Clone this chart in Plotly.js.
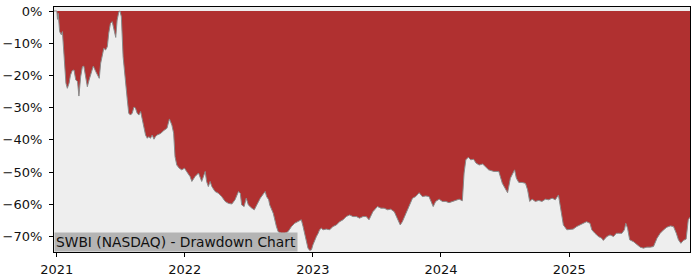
<!DOCTYPE html>
<html>
<head>
<meta charset="utf-8">
<script src="https://cdn.plot.ly/plotly-3.0.1.min.js"></script>
<style>html,body{margin:0;padding:0;background:#fff}#chart{width:700px;height:280px}</style>
</head>
<body>
<div id="chart"></div>
<script>
const dates = [
"2020-12-24","2021-01-01","2021-01-03","2021-01-05","2021-01-09","2021-01-14","2021-01-17","2021-01-22","2021-01-27","2021-01-31",
"2021-02-05","2021-02-09","2021-02-14","2021-02-19","2021-02-24","2021-03-01","2021-03-05","2021-03-10","2021-03-15","2021-03-19",
"2021-03-24","2021-03-29","2021-04-03","2021-04-07","2021-04-15","2021-04-22","2021-04-28","2021-05-02","2021-05-06","2021-05-11",
"2021-05-15","2021-05-20","2021-05-25","2021-05-29","2021-06-03","2021-06-08","2021-06-13","2021-06-18","2021-06-22","2021-06-27",
"2021-06-30","2021-07-04","2021-07-09","2021-07-16","2021-07-21","2021-07-25","2021-07-30","2021-08-04","2021-08-09","2021-08-13",
"2021-08-18","2021-08-23","2021-08-28","2021-09-01","2021-09-06","2021-09-11","2021-09-16","2021-09-20","2021-09-25","2021-09-30",
"2021-10-05","2021-10-09","2021-10-14","2021-10-24","2021-11-02","2021-11-11","2021-11-18","2021-11-25","2021-11-30","2021-12-04",
"2021-12-09","2021-12-16","2021-12-23","2021-12-31","2022-01-06","2022-01-16","2022-01-21","2022-01-30","2022-02-09","2022-02-14",
"2022-02-18","2022-02-28","2022-03-04","2022-03-09","2022-03-14","2022-03-19","2022-03-28","2022-04-07","2022-04-16","2022-04-26",
"2022-05-05","2022-05-15","2022-05-24","2022-06-03","2022-06-08","2022-06-12","2022-06-19","2022-06-25","2022-07-01","2022-07-11",
"2022-07-18","2022-07-25","2022-08-04","2022-08-14","2022-08-18","2022-08-22","2022-08-28","2022-08-31","2022-09-10","2022-09-19",
"2022-09-24","2022-10-03","2022-10-13","2022-10-22","2022-11-01","2022-11-10","2022-11-20","2022-11-29","2022-12-04","2022-12-08",
"2022-12-13","2022-12-18","2022-12-23","2022-12-28","2023-01-01","2023-01-06","2023-01-11","2023-01-16","2023-01-20","2023-01-25",
"2023-01-30","2023-02-08","2023-02-18","2023-02-27","2023-03-09","2023-03-18","2023-03-28","2023-04-06","2023-04-16","2023-04-25",
"2023-05-05","2023-05-14","2023-05-24","2023-06-02","2023-06-10","2023-06-21","2023-07-01","2023-07-04","2023-07-14","2023-07-23",
"2023-08-02","2023-08-11","2023-08-21","2023-08-30","2023-09-07","2023-09-13","2023-09-23","2023-10-02","2023-10-12","2023-10-21",
"2023-10-31","2023-11-09","2023-11-19","2023-11-28","2023-12-03","2023-12-10","2023-12-17","2023-12-27","2024-01-05","2024-01-15",
"2024-01-24","2024-02-03","2024-02-13","2024-02-22","2024-03-02","2024-03-07","2024-03-12","2024-03-19","2024-03-26","2024-04-03",
"2024-04-10","2024-04-19","2024-04-29","2024-05-07","2024-05-16","2024-05-31","2024-06-14","2024-06-24","2024-07-03","2024-07-09",
"2024-07-17","2024-07-25","2024-07-29","2024-08-03","2024-08-10","2024-08-19","2024-08-29","2024-09-04","2024-09-10","2024-09-17",
"2024-09-26","2024-10-06","2024-10-15","2024-10-25","2024-11-03","2024-11-13","2024-11-22","2024-12-01","2024-12-06","2024-12-11",
"2024-12-15","2024-12-25","2025-01-03","2025-01-12","2025-01-22","2025-01-31","2025-02-10","2025-02-19","2025-03-01","2025-03-06",
"2025-03-15","2025-03-25","2025-04-03","2025-04-08","2025-04-18","2025-04-27","2025-05-07","2025-05-15","2025-05-21","2025-05-31",
"2025-06-07","2025-06-11","2025-06-16","2025-06-22","2025-07-03","2025-07-13","2025-07-22","2025-07-31","2025-08-10","2025-08-20",
"2025-08-29","2025-09-08","2025-09-17","2025-09-27","2025-10-06","2025-10-16","2025-10-25","2025-11-02","2025-11-08","2025-11-15",
"2025-11-22","2025-11-30","2025-12-06","2025-12-11"
];
const drawdown = [
0,0,-2.6,-0.7,-6.4,-7.4,-6.4,-14.2,-22.4,-24,
-22.4,-19.9,-18.5,-18.3,-21.4,-21.9,-26.4,-20.4,-17.3,-17.1,
-19.9,-23.5,-21.4,-19.9,-17.1,-18.8,-20.2,-20.9,-16.2,-13.6,
-11.6,-12.1,-11.1,-6.9,-3.8,-3.3,-5.9,-8.2,-2.8,-0.2,
0,-1.8,-14.2,-23.5,-27.6,-31.7,-32.3,-31.7,-29.8,-30.1,
-31.7,-32.3,-31.2,-33.3,-36.4,-38.5,-39.5,-39,-39.5,-38.5,
-39.8,-39,-38.5,-38,-37.1,-36.4,-33.5,-35.4,-37.9,-45.2,
-47.8,-48.8,-49.3,-48.8,-49.8,-51.4,-52.9,-51.4,-50.3,-51.9,
-52.9,-49.8,-52.9,-54.5,-52.9,-54.5,-56,-56.6,-57.6,-59.1,
-59.7,-59.9,-58.6,-56,-56.6,-60.2,-60.7,-58.1,-60.2,-61.2,
-61.7,-60.2,-58.1,-56.6,-56,-57.6,-58.6,-60.2,-62.8,-66.9,
-68.5,-69,-69,-68.5,-66.9,-65.9,-65.4,-64.8,-66.9,-69,
-71.6,-73.6,-74.3,-74.1,-72.6,-71,-70,-69,-67.9,-67.4,
-67.9,-67.7,-67.9,-66.9,-66.4,-65.4,-64.8,-63.8,-63.3,-63.8,
-63.8,-64.3,-63.8,-63.8,-64.8,-62.3,-61.2,-60.7,-61.2,-61.2,
-61.7,-61.5,-62.3,-64.3,-66.4,-65.4,-62.8,-60.2,-58.1,-57.6,
-56.4,-57.6,-57.4,-57.6,-59.1,-60.7,-59.1,-58.4,-59.1,-59.1,
-59.5,-59.1,-58.6,-58.4,-58.9,-50.3,-46.2,-45.4,-46.2,-46,
-47.2,-47.8,-47.5,-48.5,-49.3,-49.8,-49.8,-53.5,-55.5,-56.4,
-51.9,-50.3,-49.3,-51.9,-53.2,-53.2,-53.5,-55.5,-59.1,-58.4,
-59.1,-58.8,-59.1,-58.4,-58.6,-58.1,-58.6,-57.1,-60.7,-64.3,
-66.4,-67.9,-67.9,-67.7,-66.9,-66.4,-65.9,-65.4,-65.9,-67.9,
-69,-70,-70.5,-71.2,-70,-69.5,-70,-69,-69,-69,
-67.9,-65.9,-67.4,-71,-71.6,-72.6,-73.3,-73.6,-73.3,-73.3,
-73.1,-70.5,-69,-67.9,-67.1,-66.7,-66.9,-69,-71,-72.1,
-71.2,-70.8,-64.8,-64
];
const zeroLine = dates.map(() => 0);
const yTickVals = [0, -10, -20, -30, -40, -50, -60, -70];
const yTickText = ["0%", "\u221210%", "\u221220%", "\u221230%", "\u221240%", "\u221250%", "\u221260%", "\u221270%"];
const xTickVals = ["2021-01-01", "2022-01-01", "2023-01-01", "2024-01-01", "2025-01-01"];
const xTickText = ["2021", "2022", "2023", "2024", "2025"];
const chartLabel = "SWBI (NASDAQ) - Drawdown Chart";

const font = {family: "DejaVu Sans, sans-serif", size: 13, color: "#111"};
const data = [
  {x: dates, y: zeroLine, type: "scatter", mode: "lines", line: {width: 0, color: "rgba(0,0,0,0)"}, hoverinfo: "skip", showlegend: false},
  {x: dates, y: drawdown, type: "scatter", mode: "lines", fill: "tonexty", fillcolor: "#b03030",
   line: {color: "#8a8a8a", width: 1}, showlegend: false}
];
const layout = {
  width: 700, height: 280,
  margin: {l: 54, r: 10, t: 7, b: 28, pad: 0},
  paper_bgcolor: "#ffffff", plot_bgcolor: "#eeeeee",
  font: font,
  showlegend: false,
  xaxis: {type: "date", range: ["2020-12-24", "2025-12-11"], tickvals: xTickVals, ticktext: xTickText,
    showgrid: false, zeroline: false, showline: true, linecolor: "#000", linewidth: 1, mirror: true,
    ticks: "outside", ticklen: 4, tickwidth: 1, tickcolor: "#000", tickfont: font, ticklabelstandoff: 1},
  yaxis: {range: [-74.8, 1.24], tickvals: yTickVals, ticktext: yTickText,
    showgrid: false, zeroline: false, showline: true, linecolor: "#000", linewidth: 1, mirror: true,
    ticks: "outside", ticklen: 4, tickwidth: 1, tickcolor: "#000", tickfont: font, ticklabelstandoff: 4},
  annotations: [{text: chartLabel, xref: "paper", yref: "paper", x: 0, y: 0, xanchor: "left", yanchor: "bottom",
    showarrow: false, bgcolor: "#b4b4b4", borderpad: 1, font: {family: "DejaVu Sans, sans-serif", size: 13.8, color: "#111"}}]
};
Plotly.newPlot("chart", data, layout, {displayModeBar: false, staticPlot: true});
</script>
</body>
</html>
